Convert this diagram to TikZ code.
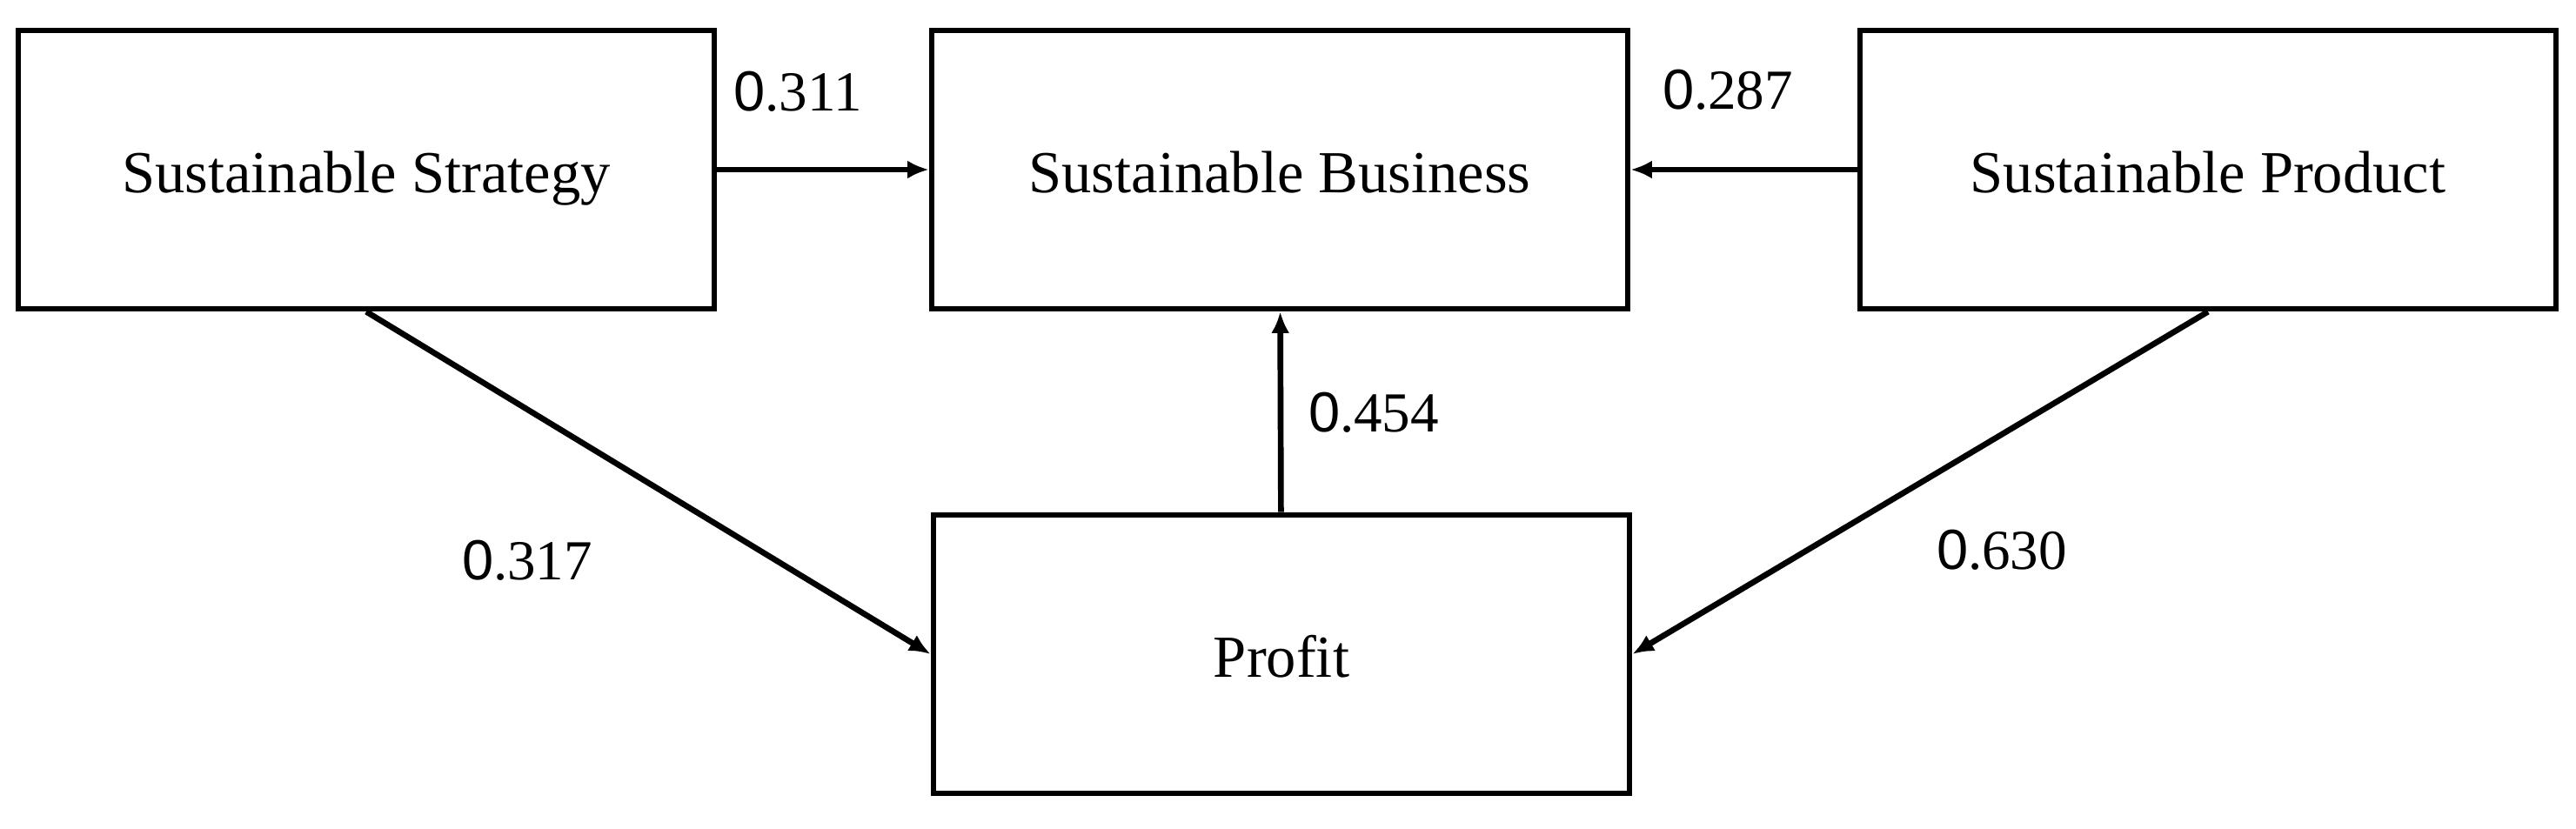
\documentclass[tikz,border=0pt]{standalone}
\usepackage{fontspec}
\setmainfont{Liberation Serif}
\newfontfamily\zerofont{Liberation Sans}
\usetikzlibrary{arrows.meta}

\begin{document}
\begin{tikzpicture}
	\tikzstyle{every node} = [font=\fontsize{19.5}{24}\selectfont]
	\tikzstyle{factor} = [draw, line width=1.9pt, minimum width=8cm, minimum height=3.2cm, inner sep=0pt, text height=15pt, text depth=0pt]
	\tikzstyle{coef} = [inner sep=0pt, font=\fontsize{18.5}{22}\selectfont]
	\tikzstyle{path} = [line width=1.9pt, -{Latex[length=7pt,width=6pt]}]
	\useasboundingbox (0,0) rectangle (29.61,9.53);
	\node [factor] (strategy) at (4.21, 7.58) {Sustainable Strategy};
	\node [factor] (business) at (14.71, 7.58) {Sustainable Business};
	\node [factor] (product) at (25.38, 7.58) {Sustainable Product};
	\node [factor] (profit) at (14.73, 2.01) {Profit};
	\node [coef] (c311) at (9.17, 8.48) {{\zerofont 0}.311};
	\node [coef] (c287) at (19.86, 8.50) {{\zerofont 0}.287};
	\node [coef] (c454) at (15.79, 4.79) {{\zerofont 0}.454};
	\node [coef] (c317) at (6.06, 3.09) {{\zerofont 0}.317};
	\node [coef] (c630) at (23.01, 3.21) {{\zerofont 0}.630};
	\draw [path] (strategy)--(business);
	\draw [path] (product)--(business);
	\draw [path] (profit)--(business);
	\draw [path] (strategy.south)--(profit.west);
	\draw [path] (product.south)--(profit.east);
\end{tikzpicture}
\end{document}
